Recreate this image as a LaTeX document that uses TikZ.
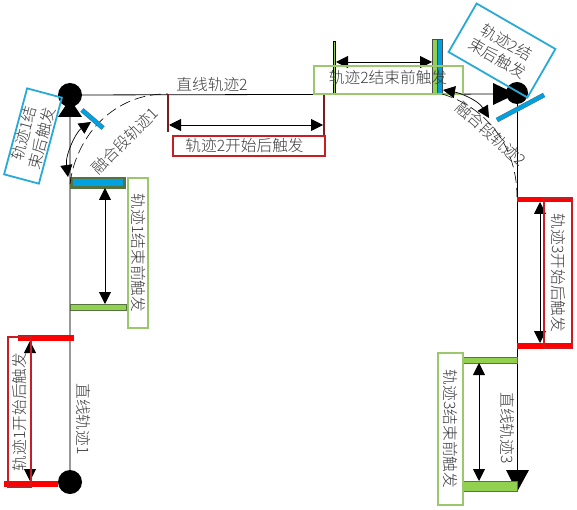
\documentclass[tikz,border=0pt]{standalone}
\usepackage{fontspec}
\setmainfont{Noto Sans CJK SC}[UprightFont=* Light]
\usetikzlibrary{arrows.meta}
\definecolor{barred}{RGB}{255,0,0}
\definecolor{boxred}{RGB}{200,30,35}
\definecolor{bargreen}{RGB}{146,208,80}
\definecolor{boxgreen}{RGB}{155,200,110}
\definecolor{bardark}{RGB}{85,115,65}
\definecolor{barblue}{RGB}{0,160,225}
\definecolor{boxblue}{RGB}{40,170,215}
\definecolor{barbrown}{RGB}{120,30,35}
\definecolor{txtgray}{RGB}{60,60,60}
\tikzset{
	lbl/.style={font=\fontsize{15.7}{18.5}\selectfont, text=txtgray, inner sep=0pt, align=center},
	dblarrow/.style={line width=0.9pt, {Triangle[width=12pt,length=12pt]}-{Triangle[width=12pt,length=12pt]}},
	redbox/.style={draw=boxred, line width=1.6pt},
	greenbox/.style={draw=boxgreen, line width=1.8pt},
	bluebox/.style={draw=boxblue, line width=1.8pt},
	blendarc/.style={line width=0.6pt, dash pattern=on 11pt off 5pt},
	bluebar/.style={draw=barblue, line width=4pt, preaction={draw=black!60, line width=4.8pt}}
}
\begin{document}
\begin{tikzpicture}[x=1pt,y=-1pt]
	\useasboundingbox (0,0) rectangle (577,510);
	
	% ----- Bahnlinien -----
	\coordinate (start1) at (70,482);
	\coordinate (corner1) at (70,95);
	\coordinate (corner2) at (517,94);
	\coordinate (end3) at (517,487);
	\draw[gray!80, line width=1.2pt] (start1) -- (corner1);
	\draw[line width=0.8pt] (corner1) -- (corner2);
	\draw[line width=0.8pt] (corner2) -- (end3);
	
	% Punkte und Dreiecke
	\fill[black] (start1) circle[radius=12];
	\fill[black] (corner1) circle[radius=12];
	\fill[black] (58,117) -- (82,117) -- (70,99) -- cycle;
	\fill[black] (517,93) circle[radius=11];
	\fill[black] (493,83) -- (493,105) -- (516,94) -- cycle;
	\fill[black] (506,470) -- (529,470) -- (517,492) -- cycle;
	
	% ----- Trajektorie 1 -----
	\fill[barred] (18,335) rectangle (74,341);
	\fill[barred] (4,481) rectangle (58,487);
	\coordinate (a1) at (30,341);
	\coordinate (b1) at (30,481);
	\draw[dblarrow] (a1) -- (b1);
	\node[redbox, lbl, minimum width=150, minimum height=23, rotate=90] (start1box) at (19.5,412) {轨迹1开始后触发};
	\node[lbl, rotate=-90] (line1) at (83,419) {直线轨迹1};
	
	\draw[fill=bargreen, draw=bardark, line width=0.6pt] (70,304) rectangle (126,310);
	\draw[fill=bardark, draw=bardark, line width=0.6pt] (70,177) rectangle (125,188);
	\fill[barblue] (73,179) rectangle (123,186);
	\coordinate (c1) at (105,188);
	\coordinate (d1) at (105,304);
	\draw[dblarrow] (c1) -- (d1);
	\node[greenbox, lbl, minimum width=150, minimum height=20, rotate=-90] (end1box) at (138,253) {轨迹1结束前触发};
	
	% ----- Uebergang 1 -----
	\draw[blendarc] (70,184) .. controls (76,135) and (115,93) .. (168,94);
	\coordinate (e1) at (91,122);
	\coordinate (f1) at (68,177);
	\draw[line width=0.7pt, {Triangle[width=12pt,length=12pt]}-{Triangle[width=12pt,length=12pt]}] (e1) .. controls (76,132) and (65,155) .. (f1);
	\draw[bluebar] (82,110) -- (103,128);
	\node[bluebox, lbl, minimum width=89, minimum height=36, rotate=75] (after1box) at (33,136) {轨迹1结\\束后触发};
	\node[lbl, rotate=45] (blend1) at (125,141) {融合段轨迹1};
	
	% ----- Trajektorie 2 -----
	\fill[barbrown] (167,94) rectangle (169,132);
	\fill[barbrown] (323,95) rectangle (325,147);
	\coordinate (a2) at (169,125);
	\coordinate (b2) at (323,125);
	\draw[dblarrow] (a2) -- (b2);
	\node[redbox, lbl, fill=white, minimum width=152, minimum height=20] (start2box) at (249,146) {轨迹2开始后触发\hspace*{9pt}};
	\node[lbl] (line2) at (212,85) {直线轨迹2};
	
	\draw[fill=bargreen, draw=black, line width=0.4pt] (333.5,41) rectangle (335.5,94);
	\draw[fill=bargreen, draw=black!70, line width=0.4pt] (432,39) rectangle (437,94);
	\draw[fill=barblue, draw=black!70, line width=0.4pt] (437,39) rectangle (442,94);
	\coordinate (c2) at (336,62);
	\coordinate (d2) at (432,62);
	\draw[dblarrow] (c2) -- (d2);
	\node[greenbox, lbl, minimum width=149, minimum height=28] (end2box) at (388.5,80) {};
	\node[lbl] (end2txt) at (388,78) {轨迹2结束前触发};
	
	% ----- Uebergang 2 -----
	\draw[blendarc] (442,94) .. controls (480,105) and (517,140) .. (517,197);
	\coordinate (e2) at (443,90);
	\coordinate (f2) at (489,118);
	\draw[line width=0.7pt, {Triangle[width=12pt,length=12pt]}-{Triangle[width=12pt,length=12pt]}] (e2) .. controls (460,93) and (478,100) .. (f2);
	\draw[bluebar] (497,120) -- (544,95);
	\node[bluebox, lbl, minimum width=91, minimum height=56, rotate=-30] (after2box) at (502,50.5) {轨迹2结\\束后触发};
	\node[lbl, rotate=-42] (blend2) at (491,134) {融合段轨迹2};
	
	% ----- Trajektorie 3 -----
	\fill[barred] (517,197) rectangle (572,202);
	\fill[barred] (517,343) rectangle (572,349);
	\coordinate (a3) at (540,202);
	\coordinate (b3) at (540,343);
	\draw[dblarrow] (a3) -- (b3);
	\node[redbox, lbl, minimum width=150, minimum height=28, rotate=-90] (start3box) at (558,273) {轨迹3开始后触发};
	\node[lbl, rotate=-90] (line3) at (507,428) {直线轨迹3};
	
	\draw[fill=bargreen, draw=black!60, line width=0.4pt] (463,357) rectangle (517,363);
	\draw[fill=bargreen, draw=black!60, line width=0.4pt] (463,481) rectangle (517,491);
	\coordinate (c3) at (479,363);
	\coordinate (d3) at (479,481);
	\draw[dblarrow] (c3) -- (d3);
	\node[greenbox, lbl, fill=white, minimum width=152, minimum height=25, rotate=-90] (end3box) at (450.5,429) {轨迹3结束前触发};
	
\end{tikzpicture}
\end{document}
